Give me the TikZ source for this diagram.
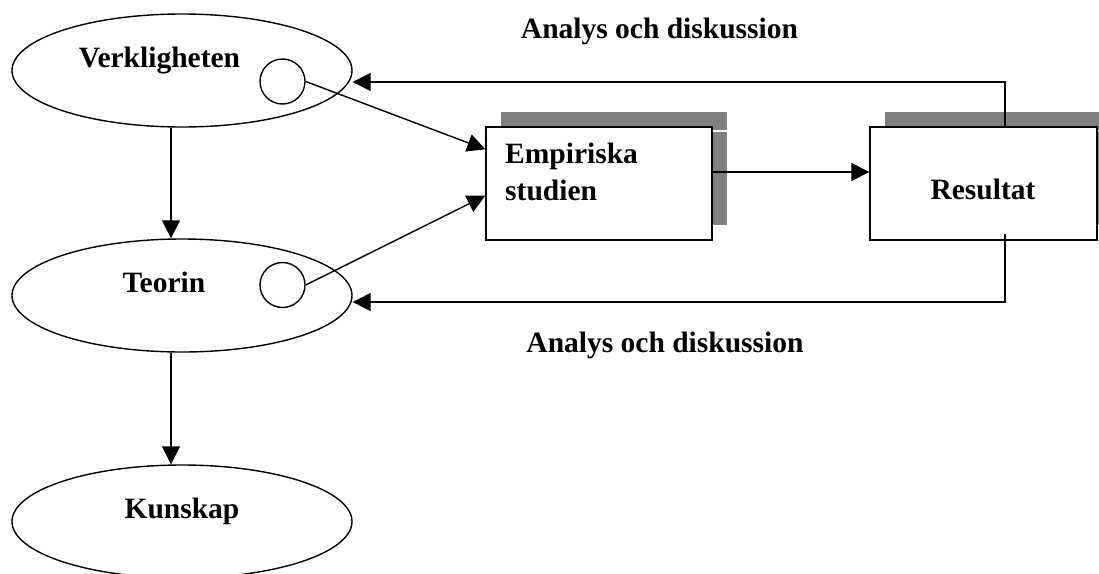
\documentclass[tikz,border=0pt]{standalone}
\usepackage{fontspec}
\setmainfont{Liberation Serif}
\usetikzlibrary{shapes.geometric,arrows.meta,calc}

\tikzset{
  ink/.style={line width=1.4pt, draw=black},
  oval/.style={ink, ellipse, minimum width=340pt, minimum height=113pt, inner sep=0pt},
  hole/.style={ink, circle, minimum size=45pt, inner sep=0pt},
  stagebox/.style={ink, rectangle, fill=white, inner sep=0pt},
  shade/.style={fill=shadowgray, draw=none},
  lbl/.style={font=\bfseries\fontsize{29.5}{37}\selectfont, inner sep=0pt, anchor=base},
  arr/.style={line width=1.4pt, -{Triangle[length=18pt,width=18pt]}},
  plain/.style={line width=1.4pt}
}
\definecolor{shadowgray}{RGB}{128,128,128}

\begin{document}
\begin{tikzpicture}[x=1pt,y=-1pt]
\useasboundingbox (0,0) rectangle (1099,573);
\clip (0,0) rectangle (1099,573);

% left column: the three ovals
\node[oval] (verk) at (182,70.5) {};
\node[oval] (teo)  at (182,295.5) {};
\node[oval] (kun)  at (182,521.5) {};
\node[lbl] (verkt) at (159.5,67) {Verkligheten};
\node[lbl] (teot)  at (164,292) {Teorin};
\node[lbl] (kunt)  at (182,518) {Kunskap};

% small circles inside the upper ovals
\node[hole] (c1) at (282.5,81.5) {};
\node[hole] (c2) at (282.5,285) {};

% drop shadows behind the two boxes
\fill[shade] (501,112) rectangle (727,130.3);
\fill[shade] (712,131.7) rectangle (727,225);
\fill[shade] (885,112) rectangle (1112,130.3);
\fill[shade] (1097,131.7) rectangle (1112,225);

% the two boxes
\node[stagebox, minimum width=226pt, minimum height=113pt] (emp) at (599,183.5) {};
\node[stagebox, minimum width=227pt, minimum height=113pt] (res) at (983.5,183.5) {};
\node[lbl, anchor=base west, align=left] (empt) at (505,200) {Empiriska\\studien};
\node[lbl] (rest) at (983,199) {Resultat};

% headings of the feedback loops
\node[lbl] (ad1) at (659.5,38) {Analys och diskussion};
\node[lbl] (ad2) at (665,352) {Analys och diskussion};

% connectors
\draw[arr] ([xshift=-11pt]verk.south) -- ([xshift=-11pt]teo.north);
\draw[arr] ([xshift=-11pt]teo.south) -- ([xshift=-11pt]kun.north);
\draw[arr] (c1.east) -- ([yshift=-23pt]emp.north west);
\draw[arr] (c2.east) -- ([yshift=45pt]emp.south west);
\draw[arr] ([yshift=11.5pt]emp.east) -- ([yshift=11.5pt]res.west);
\coordinate (rtop) at ([xshift=21.5pt]res.north);
\coordinate (rbot) at ([xshift=21.5pt,yshift=7pt]res.south);
\draw[arr] (rtop) |- ([yshift=-11.5pt]verk.east);
\draw[arr] (rbot) |- ([yshift=-6.5pt]teo.east);
\end{tikzpicture}
\end{document}
